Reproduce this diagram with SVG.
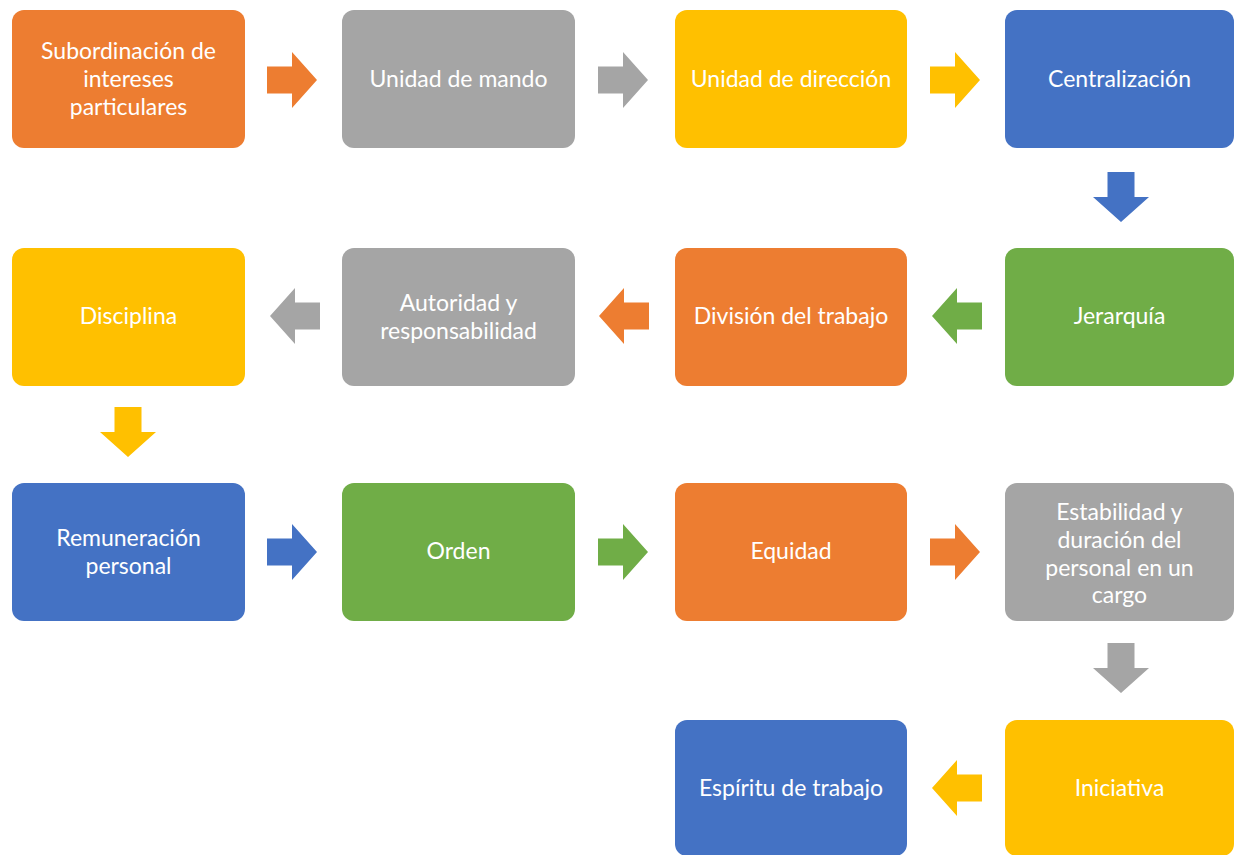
<svg xmlns="http://www.w3.org/2000/svg" xmlns:xlink="http://www.w3.org/1999/xlink" width="1235" height="855" viewBox="0 0 1235 855">
<style>
.box{stroke:none}
.t{font-family:Lato,"Liberation Sans",sans-serif;font-size:23px;fill:#FFFFFF;text-anchor:middle;dominant-baseline:central}
.o{fill:#ED7D31}.g{fill:#A5A5A5}.y{fill:#FFC000}.b{fill:#4472C4}.gr{fill:#70AD47}
</style>
<defs>
<path id="arr" d="M-25,-13.5 H0 V-28 L25,0 L0,28 V13.5 H-25 Z"/>
</defs>
<rect width="1235" height="855" fill="#FFFFFF"/>
<g id="n1"><rect class="box o" x="12" y="10" width="233" height="138" rx="12"/><text class="t" x="128.5" y="50">Subordinación de</text><text class="t" x="128.5" y="78">intereses</text><text class="t" x="128.5" y="106">particulares</text></g>
<g id="n2"><rect class="box g" x="342" y="10" width="233" height="138" rx="12"/><text class="t" x="458.5" y="78">Unidad de mando</text></g>
<g id="n3"><rect class="box y" x="675" y="10" width="232" height="138" rx="12"/><text class="t" x="791" y="78">Unidad de dirección</text></g>
<g id="n4"><rect class="box b" x="1005" y="10" width="229" height="138" rx="12"/><text class="t" x="1119.5" y="78">Centralización</text></g>
<g id="n5"><rect class="box gr" x="1005" y="248" width="229" height="138" rx="12"/><text class="t" x="1119.5" y="315">Jerarquía</text></g>
<g id="n6"><rect class="box o" x="675" y="248" width="232" height="138" rx="12"/><text class="t" x="791" y="315">División del trabajo</text></g>
<g id="n7"><rect class="box g" x="342" y="248" width="233" height="138" rx="12"/><text class="t" x="458.5" y="302">Autoridad y</text><text class="t" x="458.5" y="330">responsabilidad</text></g>
<g id="n8"><rect class="box y" x="12" y="248" width="233" height="138" rx="12"/><text class="t" x="128.5" y="315">Disciplina</text></g>
<g id="n9"><rect class="box b" x="12" y="483" width="233" height="138" rx="12"/><text class="t" x="128.5" y="537">Remuneración</text><text class="t" x="128.5" y="565">personal</text></g>
<g id="n10"><rect class="box gr" x="342" y="483" width="233" height="138" rx="12"/><text class="t" x="458.5" y="550">Orden</text></g>
<g id="n11"><rect class="box o" x="675" y="483" width="232" height="138" rx="12"/><text class="t" x="791" y="550">Equidad</text></g>
<g id="n12"><rect class="box g" x="1005" y="483" width="229" height="138" rx="12"/><text class="t" x="1119.5" y="511">Estabilidad y</text><text class="t" x="1119.5" y="539">duración del</text><text class="t" x="1119.5" y="567">personal en un</text><text class="t" x="1119.5" y="594">cargo</text></g>
<g id="n13"><rect class="box y" x="1005" y="720" width="229" height="136" rx="12"/><text class="t" x="1119.5" y="787">Iniciativa</text></g>
<g id="n14"><rect class="box b" x="675" y="720" width="232" height="136" rx="12"/><text class="t" x="791" y="787">Espíritu de trabajo</text></g>
<g id="connectors">
<use xlink:href="#arr" class="o" transform="translate(292,80)"/>
<use xlink:href="#arr" class="g" transform="translate(623,80)"/>
<use xlink:href="#arr" class="y" transform="translate(955,80)"/>
<use xlink:href="#arr" class="b" transform="translate(1121,197) rotate(90)"/>
<use xlink:href="#arr" class="gr" transform="translate(957,316) rotate(180)"/>
<use xlink:href="#arr" class="o" transform="translate(624,316) rotate(180)"/>
<use xlink:href="#arr" class="g" transform="translate(295,316) rotate(180)"/>
<use xlink:href="#arr" class="y" transform="translate(128,432) rotate(90)"/>
<use xlink:href="#arr" class="b" transform="translate(292,552)"/>
<use xlink:href="#arr" class="gr" transform="translate(623,552)"/>
<use xlink:href="#arr" class="o" transform="translate(955,552)"/>
<use xlink:href="#arr" class="g" transform="translate(1121,668) rotate(90)"/>
<use xlink:href="#arr" class="y" transform="translate(957,788) rotate(180)"/>
</g>
</svg>
